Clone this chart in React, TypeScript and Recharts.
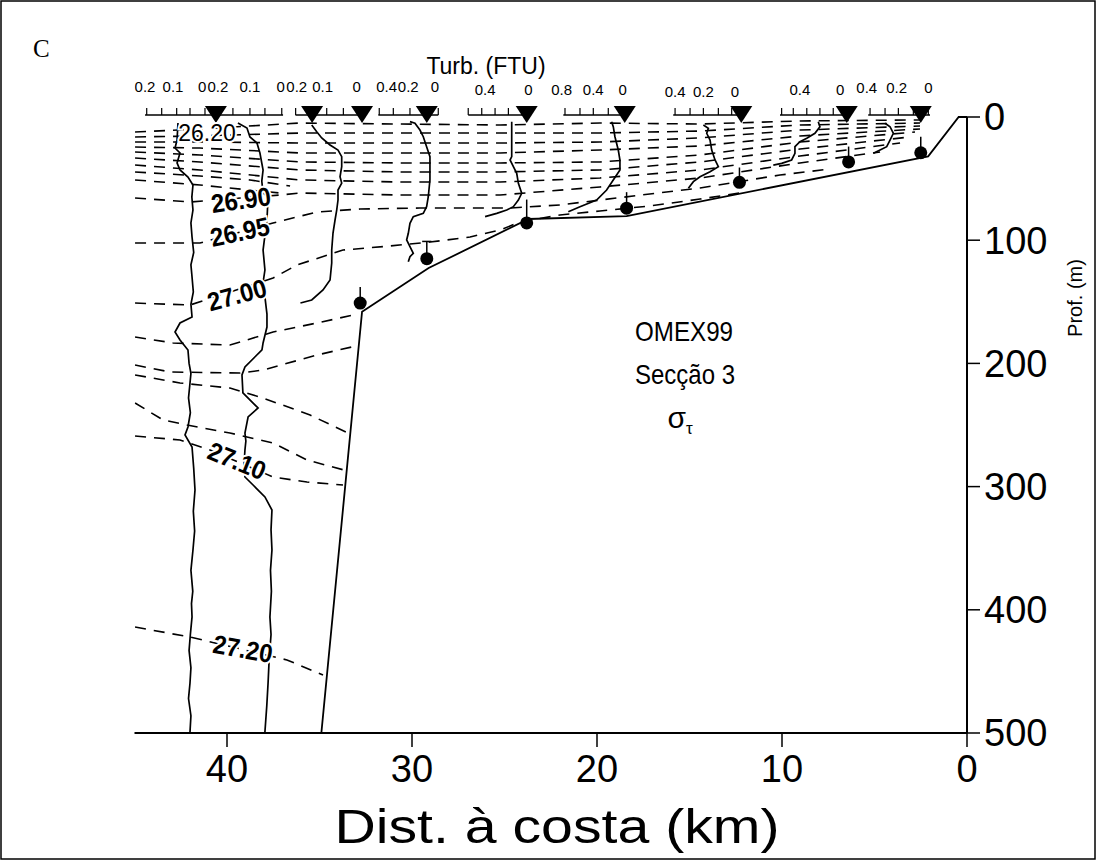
import React from "react";
import {
  ComposedChart,
  Line,
  Scatter,
  XAxis,
  YAxis,
  ReferenceLine,
} from "recharts";

const FONT = "'Liberation Sans', Arial, Helvetica, sans-serif";

// distance from coast (km) / depth (m)
const xTicks = [0, 10, 20, 30, 40];
const yTicks = [0, 100, 200, 300, 400, 500];

// bathymetry
const bottomLine: [number, number][] = [
  [0, 0], [0.45, 0], [2.1, 32], [18.4, 80.4], [23.7, 82.8], [29.1, 122.6], [32.7, 158], [34.9, 500],
];

// CTD stations (triangles at surface)
const stationKm = [40.6, 35.4, 32.7, 29.2, 23.8, 18.5, 12.2, 6.5, 2.5];

// bottom samples: dot depth and top of the stem
const samples = [
  { km: 32.8, d: 151, top: 138 },
  { km: 29.2, d: 115, top: 101 },
  { km: 23.8, d: 86, top: 67 },
  { km: 18.4, d: 74, top: 61 },
  { km: 12.3, d: 53, top: 41 },
  { km: 6.4, d: 36.5, top: 24 },
  { km: 2.5, d: 29, top: 16 },
];

// turbidity scale bars above each profile
const scaleBars: [number, number][] = [
  [44.43, 36.97], [36.3, 32.64], [31.82, 28.58], [26.96, 23.71],
  [21.82, 18.39], [15.88, 12.18], [10.11, 6.5], [5.34, 2.0],
];
const scaleTicks = [
  44.34, 43.53, 42.72, 42.0, 41.19, 40.49, 39.68, 38.76, 37.95, 37.04,
  36.29, 35.42, 34.61, 33.71, 32.81,
  31.77, 31.01, 30.11, 29.39, 28.58,
  26.96, 26.23, 25.51, 24.79, 24.07,
  21.73, 20.92, 20.2, 19.39, 18.66,
  15.78, 14.97, 14.25, 13.44, 12.72,
  10.02, 9.39, 8.66, 7.95, 7.23, 6.59,
  5.24, 4.43, 3.71, 2.9, 2.09,
];
const scaleLabels = [
  { km: 44.43, d: -24.5, text: "0.2" }, { km: 42.92, d: -24.5, text: "0.1" }, { km: 41.34, d: -24.5, text: "0" },
  { km: 40.49, d: -24.5, text: "0.2" }, { km: 38.76, d: -24.5, text: "0.1" }, { km: 37.1, d: -24.5, text: "0" },
  { km: 36.23, d: -24.5, text: "0.2" }, { km: 34.83, d: -24.5, text: "0.1" }, { km: 32.99, d: -24.5, text: "0" },
  { km: 31.37, d: -24.5, text: "0.4" }, { km: 30.2, d: -24.5, text: "0.2" }, { km: 28.76, d: -24.5, text: "0" },
  { km: 26.05, d: -22, text: "0.4" }, { km: 23.71, d: -22, text: "0" },
  { km: 21.91, d: -22, text: "0.8" }, { km: 20.2, d: -22, text: "0.4" }, { km: 18.61, d: -22, text: "0" },
  { km: 15.78, d: -20.5, text: "0.4" }, { km: 14.25, d: -20.5, text: "0.2" }, { km: 12.54, d: -20.5, text: "0" },
  { km: 9.03, d: -22, text: "0.4" }, { km: 6.86, d: -22, text: "0" },
  { km: 5.42, d: -24, text: "0.4" }, { km: 3.8, d: -24, text: "0.2" }, { km: 2.09, d: -24, text: "0" },
];

// turbidity profiles (plotted position km, depth m)
const turbA: [number, number][] = [
  [42.65, 4.9], [42.7, 18.7], [42.81, 25.2], [42.54, 29.2], [42.7, 37.3], [42.54, 43.0], [42.11, 48.7],
  [41.84, 55.2], [41.9, 65], [41.84, 75.5], [41.95, 86], [41.89, 97.4], [41.8, 110], [41.95, 120],
  [41.89, 129.9], [41.82, 142], [41.95, 152], [41.89, 162.3], [42.54, 167.2], [42.81, 174.5],
  [42.54, 181.0], [42.11, 189.1], [42.05, 200], [41.95, 208], [42.0, 215.9], [42.08, 228], [41.98, 240],
  [42.11, 251.6], [42.27, 258.1], [41.89, 267.9], [41.8, 285], [41.73, 302.8], [41.82, 320], [41.75, 336],
  [41.84, 351.5], [41.95, 368], [41.85, 385], [41.92, 395], [41.89, 405.8], [41.98, 420], [42.05, 433],
  [41.95, 447], [42.0, 459.4], [42.08, 472], [41.95, 486], [42.0, 499.2],
];
const turbB: [number, number][] = [
  [39.41, 4.9], [38.92, 8.9], [38.76, 16.2], [38.38, 21.1], [38.22, 29.2], [38.05, 43.0], [38.12, 52],
  [38.05, 61.7], [37.78, 64.9], [37.84, 83.6], [37.95, 96], [38.05, 108.0], [37.95, 124.2], [38.11, 140.4],
  [37.95, 146.1], [37.84, 160], [37.84, 170.5], [38.05, 183.4], [38.11, 189], [39.03, 202.9],
  [39.19, 209.4], [39.14, 224.0], [38.32, 236.2], [38.86, 243.5], [39.03, 256.5], [38.98, 263],
  [39.03, 270.3], [39.08, 282], [39.03, 292.2], [38.59, 298.7], [37.95, 308.4], [37.57, 319.0],
  [37.62, 335], [37.57, 351.5], [37.65, 368], [37.6, 385], [37.68, 405.8], [37.62, 420], [37.72, 440],
  [37.78, 459.4], [37.85, 478], [37.95, 499.2],
];
const turbC: [number, number][] = [
  [35.42, 6.5], [35.15, 11.9], [34.88, 17.0], [34.43, 22.7], [34.0, 26.8], [33.8, 32.2], [33.8, 40.3],
  [33.89, 48.5], [33.8, 53.6], [34.0, 59.3], [34.0, 67.4], [34.07, 75.5], [34.16, 83.6], [34.27, 94.2],
  [34.34, 108.0], [34.34, 118.5], [34.43, 132.3], [34.81, 140.4], [35.42, 148.5], [36.03, 151.0],
];
const turbD: [number, number][] = [
  [30.11, 3.8], [29.84, 5.1], [29.57, 10.6], [29.39, 16.0], [29.21, 24.1], [29.03, 32.2], [29.03, 40.3],
  [29.03, 51.1], [29.12, 64.7], [29.21, 72.8], [29.39, 78.2], [29.93, 80.9], [30.11, 86.3], [30.2, 94.4],
  [30.29, 99.8], [30.11, 105.3], [29.93, 110.6], [30.11, 113.4], [30.2, 117.5],
];
const turbE: [number, number][] = [
  [24.61, 3.8], [24.61, 32.2], [24.7, 34.9], [24.52, 40.3], [24.34, 45.7], [24.25, 53.8], [24.07, 61.9],
  [24.25, 67.4], [24.52, 72.8], [24.88, 75.5], [25.42, 78.2], [26.05, 80.9],
];
const turbF: [number, number][] = [
  [19.21, 3.8], [19.12, 7.9], [19.03, 16.0], [18.85, 26.8], [18.76, 34.9], [18.76, 43.0], [19.12, 51.1],
  [19.48, 59.3], [20.02, 67.4], [20.92, 72.8], [21.55, 76.9],
];
const turbG: [number, number][] = [
  [14.25, 6.5], [13.98, 9.2], [14.07, 13.2], [13.89, 18.7], [13.8, 26.8], [13.62, 34.9], [13.44, 40.3],
  [13.89, 44.4], [14.43, 48.5], [14.79, 52.5], [15.06, 57.9],
];
const turbH: [number, number][] = [
  [8.04, 3.8], [7.95, 7.9], [8.22, 13.2], [8.66, 17.3], [9.03, 20.0], [9.3, 24.1], [9.3, 29.5],
  [9.48, 34.9], [10.02, 37.6], [10.47, 39.0],
];
const turbI: [number, number][] = [
  [4.43, 5.1], [4.16, 7.9], [3.98, 13.2], [4.16, 18.7], [4.34, 24.1], [4.7, 26.8], [5.06, 29.5],
];

// sigma-t isolines
const isoLines: [number, number][][] = [
  [[44.97, 12.2], [41.46, 9.7], [36.05, 4.9], [30.65, 5.7], [25.24, 6.5], [19.84, 4.9], [14.43, 5.7], [9.03, 3.2], [2.54, 2.4]],
  [[44.97, 16.2], [41.46, 15.4], [36.05, 13.0], [30.65, 13.0], [25.24, 13.0], [19.84, 13.0], [14.43, 11.4], [9.03, 6.5], [2.54, 4.9]],
  [[44.97, 20.3], [41.46, 20.3], [36.05, 21.1], [30.65, 21.1], [25.24, 21.1], [19.84, 20.3], [14.43, 17.0], [9.03, 10.6], [2.54, 7.3]],
  [[44.97, 24.4], [41.46, 25.2], [36.05, 29.2], [30.65, 29.2], [25.24, 29.2], [19.84, 26.8], [14.43, 23.5], [9.03, 15.4], [2.54, 9.7]],
  [[44.97, 28.4], [41.46, 30.8], [36.05, 36.5], [30.65, 37.3], [25.24, 37.3], [19.84, 36.5], [14.43, 30.8], [9.03, 20.3], [2.81, 12.2]],
  [[44.97, 33.3], [41.46, 36.5], [36.05, 43.0], [30.65, 44.6], [25.24, 44.6], [19.84, 43.0], [14.43, 36.5], [9.03, 26.0], [3.08, 16.2]],
  [[44.97, 39.0], [41.46, 43.0], [36.05, 51.1], [30.65, 52.8], [25.24, 52.8], [19.84, 49.5], [14.43, 43.0], [9.03, 31.7], [3.62, 21.1]],
  [[44.97, 44.6], [41.46, 47.9], [38.76, 51.1], [36.59, 56.0]],
  [[44.97, 51.1], [41.46, 55.2], [38.76, 59.3], [37.14, 61.7]],
  [[44.97, 65.7], [42.0, 69.0], [37.14, 63.3], [36.05, 61.7], [30.65, 63.3], [25.24, 63.3], [19.84, 56.8], [14.43, 49.5], [9.03, 37.3], [4.7, 28.4]],
  [[44.97, 102.3], [41.46, 102.3], [37.51, 86.0], [35.14, 77.1], [32.81, 74.7], [29.57, 73.9], [26.86, 73.9], [24.7, 73.9], [22.0, 71.4], [19.84, 67.4], [14.43, 57.6], [10.11, 47.1], [7.41, 42.2]],
  [[44.97, 151.0], [42.0, 152.6], [37.51, 130.7], [36.22, 120.1], [33.73, 108.0], [31.19, 104.7], [29.03, 101.5], [26.86, 97.4], [25.24, 91.7], [24.16, 85.2], [22.0, 79.5], [19.84, 76.3], [17.14, 72.2], [14.43, 66.6], [12.27, 61.7]],
  [[44.97, 178.6], [42.92, 183.4], [39.84, 185.1], [37.51, 174.5], [35.14, 167.2], [32.92, 159.9]],
  [[44.97, 201.3], [43.08, 207.0], [39.3, 207.8], [38.05, 205.4], [35.14, 193.2], [33.03, 185.9]],
  [[44.97, 209.4], [42.54, 215.9], [39.84, 220.0], [38.05, 228.1], [35.51, 241.9], [33.46, 256.5]],
  [[44.97, 232.1], [43.46, 245.9], [42.16, 250.0], [39.84, 256.5], [37.51, 264.6], [35.68, 278.4], [33.68, 286.5]],
  [[44.97, 258.9], [42.54, 262.2], [40.92, 270.3], [37.51, 292.2], [35.68, 296.3], [33.73, 298.7]],
  [[44.97, 414.0], [42.0, 422.1], [36.76, 440.7], [34.81, 452.9]],
];

const isoLabels = [
  { km: 41.08, d: 13, text: "26.20", angle: 0, bold: false },
  { km: 39.24, d: 67.4, text: "26.90", angle: -8, bold: true },
  { km: 39.3, d: 93.3, text: "26.95", angle: -12, bold: true },
  { km: 39.46, d: 144.5, text: "27.00", angle: -15, bold: true },
  { km: 39.46, d: 279.2, text: "27.10", angle: 22, bold: true },
  { km: 39.14, d: 431.8, text: "27.20", angle: 10, bold: true },
];

const pts = (arr: [number, number][]) => arr.map(([km, d]) => ({ km, d }));

const profiles = [turbA, turbB, turbC, turbD, turbE, turbF, turbG, turbH, turbI];

const Triangle = (p: any) => {
  const { cx, cy } = p;
  return <path d={`M${cx - 11},${cy - 11}L${cx + 11},${cy - 11}L${cx},${cy + 6}Z`} fill="#000" />;
};

const Dot = (p: any) => <circle cx={p.cx} cy={p.cy} r={6.5} fill="#000" />;

const ScaleText = (p: any) => (
  <text x={p.cx} y={p.cy} textAnchor="middle" dominantBaseline="central" fontFamily={FONT} fontSize={15} fill="#000">
    {p.payload.text}
  </text>
);

const IsoText = (p: any) => {
  const { cx, cy, payload } = p;
  return (
    <text
      x={cx}
      y={cy}
      textAnchor="middle"
      dominantBaseline="central"
      transform={`rotate(${payload.angle} ${cx} ${cy})`}
      fontFamily={FONT}
      fontSize={payload.bold ? 26 : 23}
      fontWeight={payload.bold ? "bold" : "normal"}
      textLength={payload.bold ? 60 : undefined}
      lengthAdjust="spacingAndGlyphs"
      fill="#000"
      stroke="#fff"
      strokeWidth={4}
      paintOrder="stroke"
    >
      {payload.text}
    </text>
  );
};

export default function App() {
  return (
    <div style={{ position: "relative", width: 1097, height: 861, background: "#fff" }}>
      <style>{"body{margin:0;background:#fff}"}</style>
      <ComposedChart
        width={1097}
        height={861}
        margin={{ top: 61.56, right: 40, bottom: 48, left: 134.5 }}
      >
        <XAxis
          type="number"
          dataKey="km"
          domain={[0, 45]}
          reversed
          allowDataOverflow
          ticks={xTicks}
          interval={0}
          height={80}
          tickSize={14}
          tickMargin={8}
          axisLine={{ stroke: "#000", strokeWidth: 2 }}
          tickLine={{ stroke: "#000", strokeWidth: 1.5 }}
          tick={{ fill: "#000", fontSize: 38, fontFamily: FONT }}
        />
        <YAxis
          type="number"
          orientation="right"
          domain={[-45, 500]}
          reversed
          allowDataOverflow
          ticks={yTicks}
          interval={0}
          width={90}
          axisLine={false}
          tickSize={13}
          tickMargin={4}
          tickLine={{ stroke: "#000", strokeWidth: 1.5 }}
          tick={{ fill: "#000", fontSize: 38, fontFamily: FONT }}
        />

        <ReferenceLine segment={[{ x: 0, y: 0 }, { x: 0, y: 500 }]} stroke="#000" strokeWidth={2} />

        {isoLines.map((line, i) => (
          <Line
            key={`iso${i}`}
            data={pts(line)}
            dataKey="d"
            type="linear"
            stroke="#000"
            strokeWidth={1.6}
            strokeDasharray="11 8"
            dot={false}
            isAnimationActive={false}
          />
        ))}

        {profiles.map((line, i) => (
          <Line
            key={`turb${i}`}
            data={pts(line)}
            dataKey="d"
            type="linear"
            stroke="#000"
            strokeWidth={1.7}
            dot={false}
            isAnimationActive={false}
          />
        ))}

        <Line
          data={pts(bottomLine)}
          dataKey="d"
          type="linear"
          stroke="#000"
          strokeWidth={1.8}
          dot={false}
          isAnimationActive={false}
        />

        {samples.map((s, i) => (
          <ReferenceLine
            key={`stem${i}`}
            segment={[{ x: s.km, y: s.top }, { x: s.km, y: s.d }]}
            stroke="#000"
            strokeWidth={1.5}
          />
        ))}
        <ReferenceLine segment={[{ x: 29.45, y: 101 }, { x: 28.95, y: 101 }]} stroke="#000" strokeWidth={1.5} />

        {scaleBars.map(([a, b], i) => (
          <ReferenceLine
            key={`bar${i}`}
            segment={[{ x: a, y: -1.6 }, { x: b, y: -1.6 }]}
            stroke="#000"
            strokeWidth={1.5}
          />
        ))}
        {scaleTicks.map((t, i) => (
          <ReferenceLine
            key={`tk${i}`}
            segment={[{ x: t, y: -1.6 }, { x: t, y: -7.3 }]}
            stroke="#000"
            strokeWidth={1.2}
          />
        ))}

        <Scatter data={samples} dataKey="d" shape={Dot} isAnimationActive={false} />
        <Scatter
          data={stationKm.map((km) => ({ km, d: 0 }))}
          dataKey="d"
          shape={Triangle}
          isAnimationActive={false}
        />
        <Scatter data={scaleLabels} dataKey="d" shape={ScaleText} isAnimationActive={false} />
        <Scatter data={isoLabels} dataKey="d" shape={IsoText} isAnimationActive={false} />
      </ComposedChart>

      <svg
        width={1097}
        height={861}
        style={{ position: "absolute", left: 0, top: 0, pointerEvents: "none" }}
      >
        <rect x={1} y={1} width={1094} height={858} fill="none" stroke="#000" strokeWidth={1.5} />
        <text x={33} y={57} fontFamily="'Liberation Serif', 'Times New Roman', serif" fontSize={25} fill="#000">
          C
        </text>
        <text x={486} y={74} textAnchor="middle" fontFamily={FONT} fontSize={23} fill="#000">
          Turb. (FTU)
        </text>
        <text
          x={557}
          y={843}
          textAnchor="middle"
          fontFamily={FONT}
          fontSize={48}
          textLength={445}
          lengthAdjust="spacingAndGlyphs"
          fill="#000"
        >
          Dist. à costa (km)
        </text>
        <text transform="translate(1082,298) rotate(-90)" textAnchor="middle" fontFamily={FONT} fontSize={20} fill="#000">
          Prof. (m)
        </text>
        <text x={684} y={341} textAnchor="middle" fontFamily={FONT} fontSize={28} textLength={98} lengthAdjust="spacingAndGlyphs" fill="#000">
          OMEX99
        </text>
        <text x={685} y={384} textAnchor="middle" fontFamily={FONT} fontSize={28} textLength={100} lengthAdjust="spacingAndGlyphs" fill="#000">
          Secção 3
        </text>
        <text x={680} y={428} textAnchor="middle" fontFamily={FONT} fontSize={30} fill="#000">
          σ<tspan fontSize={17} dy={6}>τ</tspan>
        </text>
      </svg>
    </div>
  );
}
